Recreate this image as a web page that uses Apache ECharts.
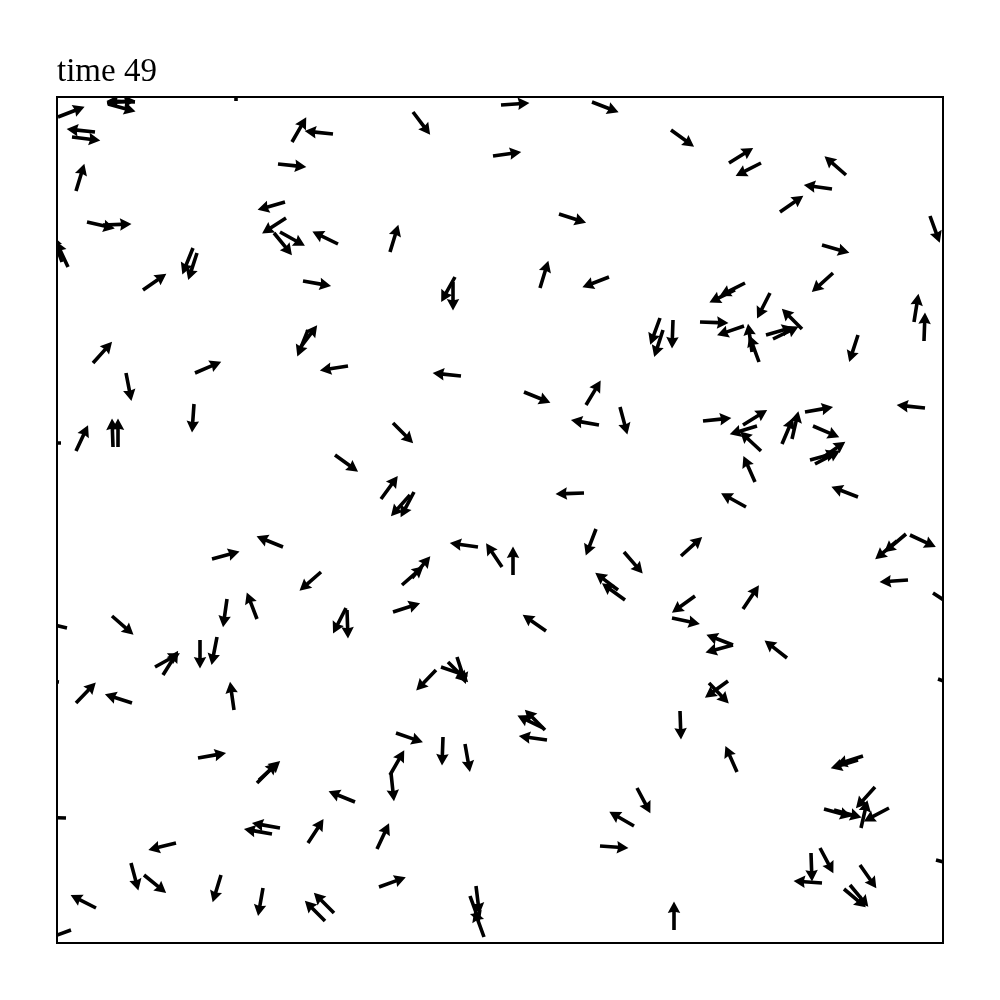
<!DOCTYPE html>
<html>
<head>
<meta charset="utf-8">
<script src="https://cdn.jsdelivr.net/npm/echarts@6/dist/echarts.min.js"></script>
<style>html,body{margin:0;padding:0;background:#fff;}#c{width:1000px;height:1000px;}</style>
</head>
<body>
<div id="c"></div>
<script>
// Particle positions (domain units) and heading angles (degrees, counter-clockwise from +x)
var X = [1,50,51,78,38,15,19,30,46,11,5,86,136,140,235,276,221,228,229,223,217,281,246,243,251,291,36,138,69,
356,444,535,436,502,333,483,552,398,396,404,
614,672,704,789,775,723,873,765,776,688,678,713,643,687,702,695,745,709,716,603,606,616,801,857,867,
137,19,56,61,4,278,226,155,264,170,200,55,10,289,290,
467,529,542,563,336,324,357,353,527,539,567,421,445,456,345,355,336,561,568,489,
646,686,700,704,725,735,748,868,756,753,758,765,698,689,801,624,849,840,853,851,876,686,638,615,676,676,730,
98,106,143,160,19,75,177,141,200,202,298,223,215,251,119,74,87,164,206,268,277,39,14,2,9,
379,384,391,400,488,486,490,339,386,408,333,334,320,322,419,427,413,577,543,580,
671,652,623,680,806,801,818,767,777,804,832,763,754,765,803,787,793,617,881,879,179];
var Y = [826,840,839,841,811,806,752,721,718,676,681,653,695,690,801,809,779,741,725,711,710,699,662,595,613,577,580,570,570,
831,838,841,787,729,691,655,666,666,661,567,
813,780,780,768,754,731,727,698,670,660,653,650,621,617,581,591,614,608,604,625,613,623,608,621,602,
539,492,496,496,500,488,396,384,371,344,324,327,315,335,333,
551,538,518,536,520,444,451,448,450,414,391,396,376,368,358,365,331,353,343,312,
522,518,517,492,499,504,531,535,517,483,479,485,461,436,446,387,409,402,408,363,350,334,347,325,298,298,285,
276,268,303,306,240,240,233,185,160,163,141,115,109,100,100,80,68,68,55,22,30,35,13,261,125,
273,276,281,286,213,215,203,210,206,199,168,170,94,56,57,6,47,117,97,155,
262,260,232,171,187,183,156,134,133,115,135,95,90,60,78,54,58,13,264,83,842];
var ANGLE = [21,5,-15,178,174,-7,73,-13,2,115,110,35,-112,-108,60,174,-6,-164,-147,-29,-51,154,-10,53,-112,-171,48,23,-79,
-53,4,-21,8,-18,73,73,-159,-119,-90,174,
-36,32,-153,139,172,35,-70,-16,-138,-153,-154,-117,-2,-161,110,98,135,16,26,-110,-108,-92,-108,81,88,
-94,65,92,90,180,-36,158,15,-139,-98,111,-41,167,-117,-88,
-22,59,170,-75,-45,54,-118,-132,-178,-111,-49,172,124,90,41,50,18,143,144,145,
6,32,-163,137,67,77,10,174,-23,15,28,35,114,151,159,42,-140,-140,-25,-176,-33,56,-144,-12,159,-165,142,
29,58,-90,-101,46,162,98,10,45,42,158,170,170,57,-166,-75,-39,-107,-100,135,135,153,-160,175,178,
-134,-19,-45,-72,135,154,172,-19,-92,-80,60,-84,65,20,-83,110,-70,150,-4,-62,
-144,-46,-88,114,-162,-163,-132,-15,-15,77,-152,-62,-88,176,-55,-40,-50,90,-20,-15,90];

var DOMAIN_W = 886, DOMAIN_H = 846;

var data = [];
for (var i = 0; i < X.length; i++) data.push([X[i], Y[i], ANGLE[i]]);

// arrow style (pixels)
var ARROW_LEN = 28.5, SHAFT_W = 3.6, HEAD_LEN = 11.5, HEAD_AXIS = 10.5, HEAD_W = 12.5;

function renderArrow(params, api) {
  var p = api.coord([api.value(0), api.value(1)]);
  var a = api.value(2) * Math.PI / 180;
  var dx = Math.cos(a), dy = -Math.sin(a);
  var nx = -dy, ny = dx;
  var s = SHAFT_W / 2, hw = HEAD_W / 2;
  var loc = [[0, -s], [ARROW_LEN - HEAD_AXIS, -s], [ARROW_LEN - HEAD_LEN, -hw], [ARROW_LEN, 0],
             [ARROW_LEN - HEAD_LEN, hw], [ARROW_LEN - HEAD_AXIS, s], [0, s]];
  var pts = loc.map(function (q) {
    return [p[0] + q[0] * dx + q[1] * nx, p[1] + q[0] * dy + q[1] * ny];
  });
  return { type: 'polygon', shape: { points: pts }, style: { fill: '#000', stroke: null } };
}

var chart = echarts.init(document.getElementById('c'), null, { renderer: 'canvas' });
chart.setOption({
  animation: false,
  backgroundColor: '#fff',
  title: {
    text: 'time 49', left: 52, top: 51,
    textStyle: { fontFamily: 'Liberation Serif', fontSize: 33, fontWeight: 'normal', color: '#000' }
  },
  grid: { left: 57, top: 97, width: 886, height: 846, show: true, borderColor: '#000', borderWidth: 2, backgroundColor: '#fff' },
  xAxis: { type: 'value', min: 0, max: DOMAIN_W, axisLine: { show: false }, axisTick: { show: false }, axisLabel: { show: false }, splitLine: { show: false } },
  yAxis: { type: 'value', min: 0, max: DOMAIN_H, axisLine: { show: false }, axisTick: { show: false }, axisLabel: { show: false }, splitLine: { show: false } },
  series: [{ type: 'custom', renderItem: renderArrow, data: data, clip: true, silent: true }]
});
</script>
</body>
</html>
